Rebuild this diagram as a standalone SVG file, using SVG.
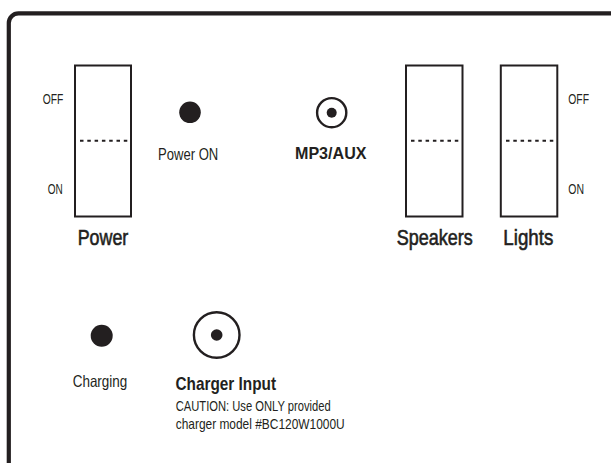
<svg xmlns="http://www.w3.org/2000/svg" width="612" height="463" viewBox="0 0 612 463">
<style>
.frame{fill:none;stroke:#231f20;stroke-width:4.2}
.sw{fill:#fff;stroke:#231f20;stroke-width:2}
.dash{stroke:#231f20;stroke-width:2;stroke-dasharray:3.5 3.8}
.dot{fill:#231f20}
.ring{fill:none;stroke:#231f20;stroke-width:2.4}
text{font-family:"Liberation Sans",Arial,sans-serif;fill:#231f20}
.sm{font-size:14.5px}
.md{font-size:16.5px}
.lg{font-size:22px;stroke:#231f20;stroke-width:0.6}
.bd{font-size:17px;font-weight:bold}
.hd{font-size:18.5px;font-weight:bold}
.ct{font-size:14.2px}
</style>
<rect width="612" height="463" fill="#fff"/>
<path class="frame" d="M8.8 463 V23 A9.7 9.7 0 0 1 18.5 13.3 H611"/>
<g id="connectors"/>
<g id="power-switch">
<rect class="sw" x="75" y="65.5" width="56" height="151"/>
<line class="dash" x1="80" y1="140.7" x2="130" y2="140.7"/>
<text class="sm" x="42.7" y="104" textLength="20.6" lengthAdjust="spacingAndGlyphs">OFF</text>
<text class="sm" x="47.7" y="194" textLength="15" lengthAdjust="spacingAndGlyphs">ON</text>
<text class="lg" x="77.7" y="245" textLength="50.6" lengthAdjust="spacingAndGlyphs">Power</text>
</g>
<g id="power-on-led">
<circle class="dot" cx="190" cy="112.3" r="10.8"/>
<text class="md" x="158" y="159.5" textLength="60.3" lengthAdjust="spacingAndGlyphs">Power ON</text>
</g>
<g id="mp3-aux">
<circle class="ring" cx="331.7" cy="112.7" r="14.6"/>
<circle class="dot" cx="331.7" cy="112.7" r="5"/>
<text class="bd" x="295" y="158.6" textLength="71.5" lengthAdjust="spacingAndGlyphs">MP3/AUX</text>
</g>
<g id="speakers-switch">
<rect class="sw" x="406" y="65.5" width="56.5" height="151"/>
<line class="dash" x1="411" y1="140.7" x2="461" y2="140.7"/>
<text class="lg" x="396.7" y="245" textLength="76" lengthAdjust="spacingAndGlyphs">Speakers</text>
</g>
<g id="lights-switch">
<rect class="sw" x="500.8" y="65.5" width="56.5" height="151"/>
<line class="dash" x1="506" y1="140.7" x2="556" y2="140.7"/>
<text class="sm" x="568.3" y="104" textLength="20.7" lengthAdjust="spacingAndGlyphs">OFF</text>
<text class="sm" x="568.3" y="194" textLength="15.7" lengthAdjust="spacingAndGlyphs">ON</text>
<text class="lg" x="503.3" y="245" textLength="50" lengthAdjust="spacingAndGlyphs">Lights</text>
</g>
<g id="charging-led">
<circle class="dot" cx="101.7" cy="335.7" r="11"/>
<text class="md" x="72.7" y="386.9" textLength="54.6" lengthAdjust="spacingAndGlyphs">Charging</text>
</g>
<g id="charger-input">
<circle class="ring" cx="216.7" cy="335" r="22.8"/>
<circle class="dot" cx="216.7" cy="335" r="5.8"/>
<text class="hd" x="175.5" y="390" textLength="100.5" lengthAdjust="spacingAndGlyphs">Charger Input</text>
<text class="ct" x="175.7" y="411.2" textLength="155" lengthAdjust="spacingAndGlyphs">CAUTION: Use ONLY provided</text>
<text class="ct" x="175.7" y="429" textLength="169" lengthAdjust="spacingAndGlyphs">charger model #BC120W1000U</text>
</g>
</svg>
